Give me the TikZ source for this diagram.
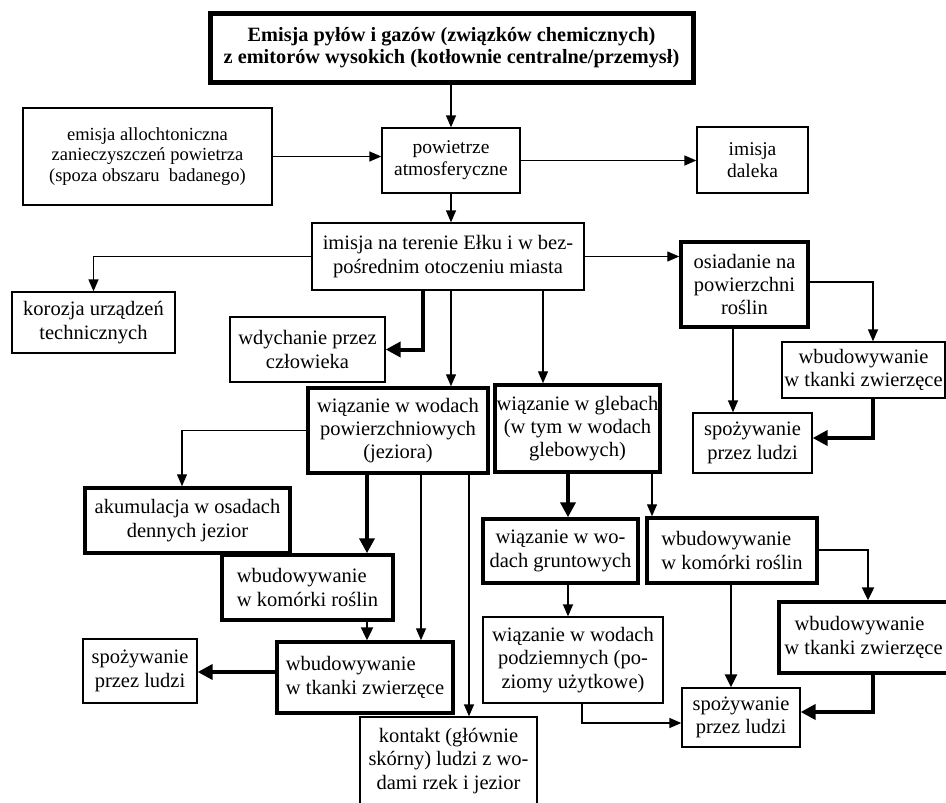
\documentclass[tikz,border=0pt]{standalone}
\usepackage{fontspec}
\setmainfont{Liberation Serif}
\usetikzlibrary{arrows.meta}
\begin{document}
\begin{tikzpicture}[x=1pt,y=-1pt,
  box/.style={draw, line width=1.3pt, align=center, inner sep=1.5pt, font=\fontsize{20.5}{23.3}\selectfont},
  tbox/.style={box, line width=3.5pt},
  arr/.style={line width=1.3pt, -{Triangle[length=12pt,width=10pt]}},
  marr/.style={line width=2.4pt, -{Triangle[length=13pt,width=12pt]}},
  tarr/.style={line width=4pt, -{Triangle[length=15pt,width=15pt]}},
]
\useasboundingbox (0,0) rectangle (946,803);
% nodes
\node[tbox, line width=5pt, minimum width=483pt, minimum height=69pt, font=\bfseries\fontsize{20.3}{22}\selectfont] (top) at (451.5,47.5)
  {Emisja pyłów i gazów (związków chemicznych)\\z emitorów wysokich (kotłownie centralne/przemysł)};
\node[box, minimum width=249pt, minimum height=97pt, font=\fontsize{18.5}{20.5}\selectfont] (alloch) at (147.5,156.5)
  {emisja allochtoniczna\\zanieczyszczeń powietrza\\(spoza obszaru\ \ badanego)};
\node[box, minimum width=138pt, minimum height=65pt, font=\fontsize{19.5}{22}\selectfont] (pow) at (451,160.5) {powietrze\\atmosferyczne};
\node[box, minimum width=111pt, minimum height=66pt, font=\fontsize{19.5}{22}\selectfont] (daleka) at (752.5,160) {imisja\\daleka};
\node[box, minimum width=272pt, minimum height=67pt] (imisja) at (448,256.5) {imisja na terenie Ełku i w bez-\\pośrednim otoczeniu miasta};
\node[box, minimum width=163pt, minimum height=61pt] (korozja) at (93.5,322.5) {korozja urządzeń\\technicznych};
\node[box, minimum width=155pt, minimum height=65pt] (wdych) at (307.5,349.5) {wdychanie przez\\człowieka};
\node[tbox, minimum width=127pt, minimum height=85pt] (osiad) at (744.5,284.5) {osiadanie na\\powierzchni\\roślin};
\node[tbox, minimum width=180pt, minimum height=85pt] (powierz) at (398,430.5) {wiązanie w wodach\\powierzchniowych\\(jeziora)};
\node[tbox, minimum width=165pt, minimum height=87pt] (gleb) at (577.5,428.5) {wiązanie w glebach\\(w tym w wodach\\glebowych)};
\node[box, minimum width=163pt, minimum height=56pt] (tkR1) at (863.5,370) {wbudowywanie\\w tkanki zwierzęce};
\node[box, minimum width=119pt, minimum height=60pt] (spR1) at (752.5,443) {spożywanie\\przez ludzi};
\node[tbox, minimum width=205pt, minimum height=65pt] (akum) at (187.5,520.5) {akumulacja w osadach\\dennych jezior};
\node[tbox, minimum width=155pt, minimum height=64pt] (grunt) at (560.5,551) {wiązanie w wo-\\dach gruntowych};
\node[tbox, minimum width=170pt, minimum height=65pt, align=left] (komR) at (732,550.5) {wbudowywanie\\w komórki roślin};
\node[tbox, minimum width=171pt, minimum height=65pt, align=left] (komL) at (307.5,587.5) {wbudowywanie\\w komórki roślin};
\node[box, minimum width=180pt, minimum height=86pt] (podz) at (573,660) {wiązanie w wodach\\podziemnych (po-\\ziomy użytkowe)};
\node[tbox, minimum width=169pt, minimum height=71pt, align=left] (tkR2) at (863.5,637.5) {\ \ wbudowywanie\\w tkanki zwierzęce};
\node[box, minimum width=118pt, minimum height=59pt] (spR2) at (741,717.5) {spożywanie\\przez ludzi};
\node[tbox, minimum width=176pt, minimum height=71pt, align=left] (tkL) at (365,677.5) {wbudowywanie\\w tkanki zwierzęce};
\node[box, minimum width=114pt, minimum height=64pt] (spL) at (140,671) {spożywanie\\przez ludzi};
\node[box, minimum width=177pt, minimum height=88pt] (kont) at (448.5,761) {kontakt (głównie\\skórny) ludzi z wo-\\dami rzek i jezior};
% helper coordinates
\coordinate (xA) at (423,0);
\coordinate (xC) at (543,0);
\coordinate (yD) at (0,282);
\coordinate (xE) at (873,0);
\coordinate (xF) at (733,0);
\coordinate (yG) at (0,438);
\coordinate (xI) at (182,0);
\coordinate (xJ) at (367,0);
\coordinate (xK) at (421,0);
\coordinate (xL) at (469,0);
\coordinate (yM) at (0,672);
\coordinate (xN) at (568,0);
\coordinate (xO) at (652,0);
\coordinate (yP) at (0,550);
\coordinate (xQ) at (868,0);
\coordinate (xR) at (731,0);
\coordinate (yT) at (0,712);
\coordinate (xU) at (582,0);
\coordinate (yV) at (0,723);
% connectors
\draw[arr] (top.south -| pow.north) -- (pow.north);
\draw[arr] (alloch.east) -- (alloch.east -| pow.west);
\draw[arr] (pow.east) -- (pow.east -| daleka.west);
\draw[arr] (pow.south) -- (pow.south |- imisja.north);
\draw[arr] (imisja.west) -| (korozja.north);
\draw[tarr] (imisja.south -| xA) |- (wdych.east);
\draw[arr] (imisja.south -| pow.south) -- (powierz.north -| pow.south);
\draw[arr] (imisja.south -| xC) -- (gleb.north -| xC);
\draw[arr] (imisja.east) -- (imisja.east -| osiad.west);
\draw[arr] (osiad.east |- yD) -| (tkR1.north -| xE);
\draw[arr] (osiad.south -| xF) -- (spR1.north -| xF);
\draw[tarr] (tkR1.south -| xE) |- (spR1.east |- yG);
\draw[arr] (powierz.west) -| (akum.north -| xI);
\draw[tarr] (powierz.south -| xJ) -- (komL.north -| xJ);
\draw[arr] (powierz.south -| xK) -- (tkL.north -| xK);
\draw[arr] (powierz.south -| xL) -- (kont.north -| xL);
\draw[marr] (komL.south -| xJ) -- (tkL.north -| xJ);
\draw[tarr] (tkL.west |- yM) -- (spL.east |- yM);
\draw[tarr] (gleb.south -| xN) -- (grunt.north -| xN);
\draw[arr] (gleb.south -| xO) -- (komR.north -| xO);
\draw[arr] (grunt.south -| xN) -- (podz.north -| xN);
\draw[marr] (komR.east |- yP) -| (tkR2.north -| xQ);
\draw[marr] (komR.south -| xR) -- (spR2.north -| xR);
\draw[tarr] (tkR2.south -| xE) |- (spR2.east |- yT);
\draw[arr] (podz.south -| xU) |- (spR2.west |- yV);
\end{tikzpicture}
\end{document}
